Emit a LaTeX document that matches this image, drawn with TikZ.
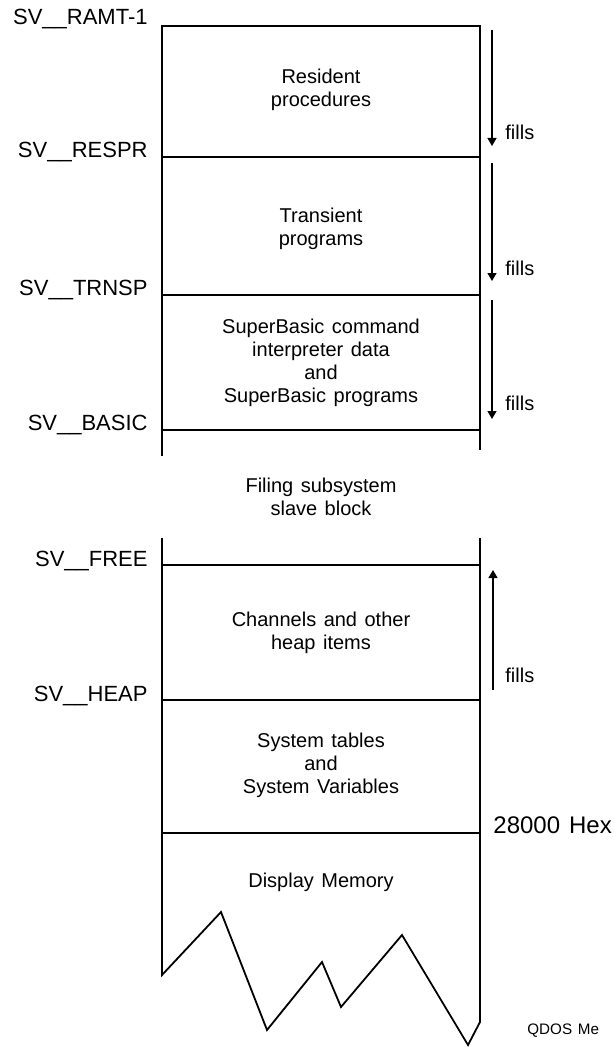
\documentclass[tikz,border=0pt]{standalone}
\usepackage{fontspec}
\setmainfont{Liberation Sans}[WordSpace=1.35]
\usetikzlibrary{arrows.meta}
\begin{document}
\begin{tikzpicture}[x=0.5pt,y=-0.5pt,
  wall/.style={line width=0.9pt},
  fillarrow/.style={line width=0.6pt,-{Triangle[length=4pt,width=4.5pt]}},
  boxtext/.style={align=center,inner sep=0pt,font=\fontsize{10}{11.5}\selectfont},
  addr/.style={anchor=base east,inner sep=0pt,font=\fontsize{11}{13}\selectfont},
  filltext/.style={anchor=west,inner sep=0pt,font=\fontsize{10}{11.5}\selectfont}]
\useasboundingbox (0,0) rectangle (614,1048);
% upper block
\coordinate (tl) at (162,26);
\coordinate (tr) at (480,26);
\coordinate (bl) at (162,456);
\coordinate (br) at (480,450);
\draw[wall] (bl) -- (tl) -- (tr) -- (br);
\coordinate (respL) at (162,157); \coordinate (respR) at (480,157);
\coordinate (trnL) at (162,295); \coordinate (trnR) at (480,295);
\coordinate (basL) at (162,430); \coordinate (basR) at (480,430);
\draw[wall] (respL) -- (respR);
\draw[wall] (trnL) -- (trnR);
\draw[wall] (basL) -- (basR);
% lower block
\coordinate (ul) at (162,538);
\coordinate (ur) at (480,538);
\coordinate (z0) at (162,975);
\coordinate (z1) at (221,912);
\coordinate (z2) at (267,1030);
\coordinate (z3) at (322,962);
\coordinate (z4) at (341,1007);
\coordinate (z5) at (402,935);
\coordinate (z6) at (468,1045);
\coordinate (z7) at (480,1022);
\draw[wall] (ul) -- (z0) -- (z1) -- (z2) -- (z3) -- (z4) -- (z5) -- (z6) -- (z7) -- (ur);
\coordinate (freeL) at (162,565); \coordinate (freeR) at (480,565);
\coordinate (heapL) at (162,700); \coordinate (heapR) at (480,700);
\coordinate (hexL) at (162,833); \coordinate (hexR) at (480,833);
\draw[wall] (freeL) -- (freeR);
\draw[wall] (heapL) -- (heapR);
\draw[wall] (hexL) -- (hexR);
% address labels
\node[addr] (ramt) at (148,25) {SV\_\_RAMT-1};
\node[addr] (respr) at (148,158) {SV\_\_RESPR};
\node[addr] (trnsp) at (148,295) {SV\_\_TRNSP};
\node[addr] (basic) at (148,430) {SV\_\_BASIC};
\node[addr] (free) at (148,566) {SV\_\_FREE};
\node[addr] (heap) at (148,701) {SV\_\_HEAP};
\node[anchor=base west,inner sep=0pt,font=\fontsize{12}{14}\selectfont] (hex) at (493,833) {28000 Hex};
% box texts
\node[boxtext] (res) at (321,90) {Resident\\procedures};
\node[boxtext] (trans) at (321,229) {Transient\\programs};
\node[boxtext] (sb) at (321,363) {SuperBasic command\\interpreter data\\and\\SuperBasic programs};
\node[boxtext] (filing) at (321,497) {Filing subsystem\\slave block};
\node[boxtext] (chan) at (321,633) {Channels and other\\heap items};
\node[boxtext] (sys) at (321,765) {System tables\\and\\System Variables};
\node[boxtext] (disp) at (321,882) {Display Memory};
% fills arrows
\coordinate (a1s) at (492,30); \coordinate (a1e) at (492,146);
\coordinate (a2s) at (492,163); \coordinate (a2e) at (492,281);
\coordinate (a3s) at (492,300); \coordinate (a3e) at (492,419);
\coordinate (a4s) at (493,690); \coordinate (a4e) at (493,570);
\draw[fillarrow] (a1s) -- (a1e);
\draw[fillarrow] (a2s) -- (a2e);
\draw[fillarrow] (a3s) -- (a3e);
\draw[fillarrow] (a4s) -- (a4e);
\node[filltext] (f1) at (505,132) {fills};
\node[filltext] (f2) at (505,268) {fills};
\node[filltext] (f3) at (505,403) {fills};
\node[filltext] (f4) at (505,675) {fills};
\node[anchor=west,inner sep=0pt,font=\fontsize{7.6}{9}\selectfont] (qdos) at (527,1031) {QDOS Me};
\end{tikzpicture}
\end{document}
